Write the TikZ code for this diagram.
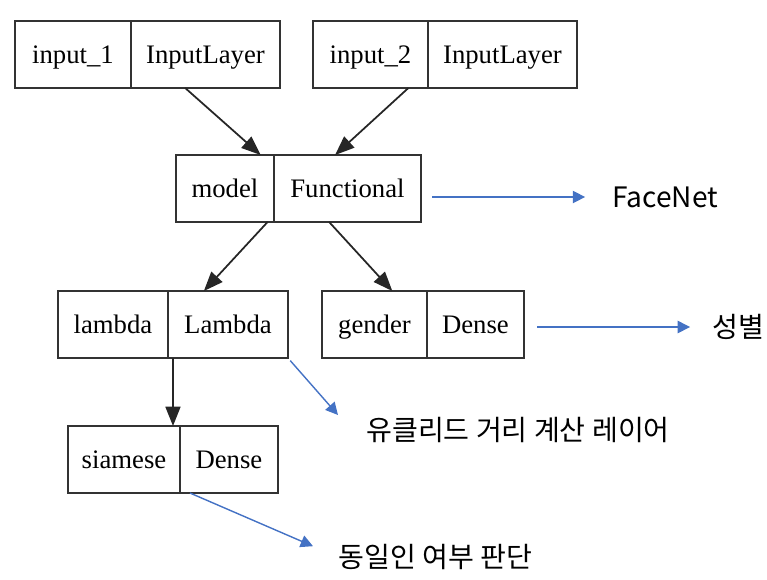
\documentclass[tikz,border=0pt]{standalone}
\usepackage{fontspec}
\setmainfont{Liberation Serif}
\newfontfamily\kofont{Noto Sans CJK KR}
\usepackage{tikz}
\usetikzlibrary{positioning,arrows.meta,fit}
\definecolor{notebl}{HTML}{4472C4}
\definecolor{boxline}{HTML}{333333}

\begin{document}
\begin{tikzpicture}[x=0.02cm, y=-0.02cm,
  cell/.style={draw=boxline, line width=1pt, minimum height=1.34cm, inner sep=0pt, outer sep=0pt,
    text height=12pt, text depth=2.2pt, font=\fontsize{15.2}{18}\selectfont},
  rec/.style={fit=#1, inner sep=0pt, outer sep=0pt},
  flow/.style={-{Triangle[length=11pt,width=8.5pt]}, line width=1pt, black!85},
  note/.style={-{Triangle[length=7pt,width=7pt]}, line width=0.8pt, notebl},
  notetext/.style={anchor=west, inner sep=0pt, font=\kofont\fontsize{16}{19}\selectfont},
]
\useasboundingbox (0,0) rectangle (767,579);

% Layer records (name | class), placed by left edge and centre line
\node[cell, minimum width=2.32cm, anchor=west] (in1n) at (15,54.5) {input\_1};
\node[cell, minimum width=2.98cm, right=0pt of in1n] (in1t) {InputLayer};
\node[cell, minimum width=2.30cm, anchor=west] (in2n) at (313,54.5) {input\_2};
\node[cell, minimum width=2.98cm, right=0pt of in2n] (in2t) {InputLayer};
\node[cell, minimum width=1.96cm, anchor=west] (modn) at (176,188.5) {model};
\node[cell, minimum width=2.94cm, right=0pt of modn] (modt) {Functional};
\node[cell, minimum width=2.20cm, anchor=west] (lamn) at (58,324.5) {lambda};
\node[cell, minimum width=2.40cm, right=0pt of lamn] (lamt) {Lambda};
\node[cell, minimum width=2.10cm, anchor=west] (genn) at (322,324.5) {gender};
\node[cell, minimum width=1.94cm, right=0pt of genn] (gent) {Dense};
\node[cell, minimum width=2.24cm, anchor=west] (sian) at (68,459.5) {siamese};
\node[cell, minimum width=1.96cm, right=0pt of sian] (siat) {Dense};

% whole records, so edges run centre to centre
\node[rec={(in1n)(in1t)}] (in1) {};
\node[rec={(in2n)(in2t)}] (in2) {};
\node[rec={(modn)(modt)}] (mod) {};
\node[rec={(lamn)(lamt)}] (lam) {};
\node[rec={(genn)(gent)}] (gen) {};
\node[rec={(sian)(siat)}] (sia) {};

\draw[flow] (in1) -- (mod);
\draw[flow] (in2) -- (mod);
\draw[flow] (mod) -- (lam);
\draw[flow] (mod) -- (gen);
\draw[flow] (lam) -- (sia);

% Notes on the right
\node[notetext] (facenet) at (612,197) {FaceNet};
\node[notetext] (gend) at (712,327) {성별};
\node[notetext] (eucl) at (366,430) {유클리드 거리 계산 레이어};
\node[notetext] (same) at (338,557) {동일인 여부 판단};

\coordinate (facefrom) at (432,197);
\coordinate (gendfrom) at (537,327);
\coordinate (euclto) at (338,415);
\coordinate (samefrom) at (190,493);
\draw[note, shorten >=15.3pt] (facefrom) -- (facenet.west);
\draw[note, shorten >=12.5pt] (gendfrom) -- (gend.west);
\draw[note, shorten <=2pt] (lamt.south east) -- (euclto);
\draw[note, shorten >=15.5pt] (samefrom) -- (same.west);
\end{tikzpicture}
\end{document}
